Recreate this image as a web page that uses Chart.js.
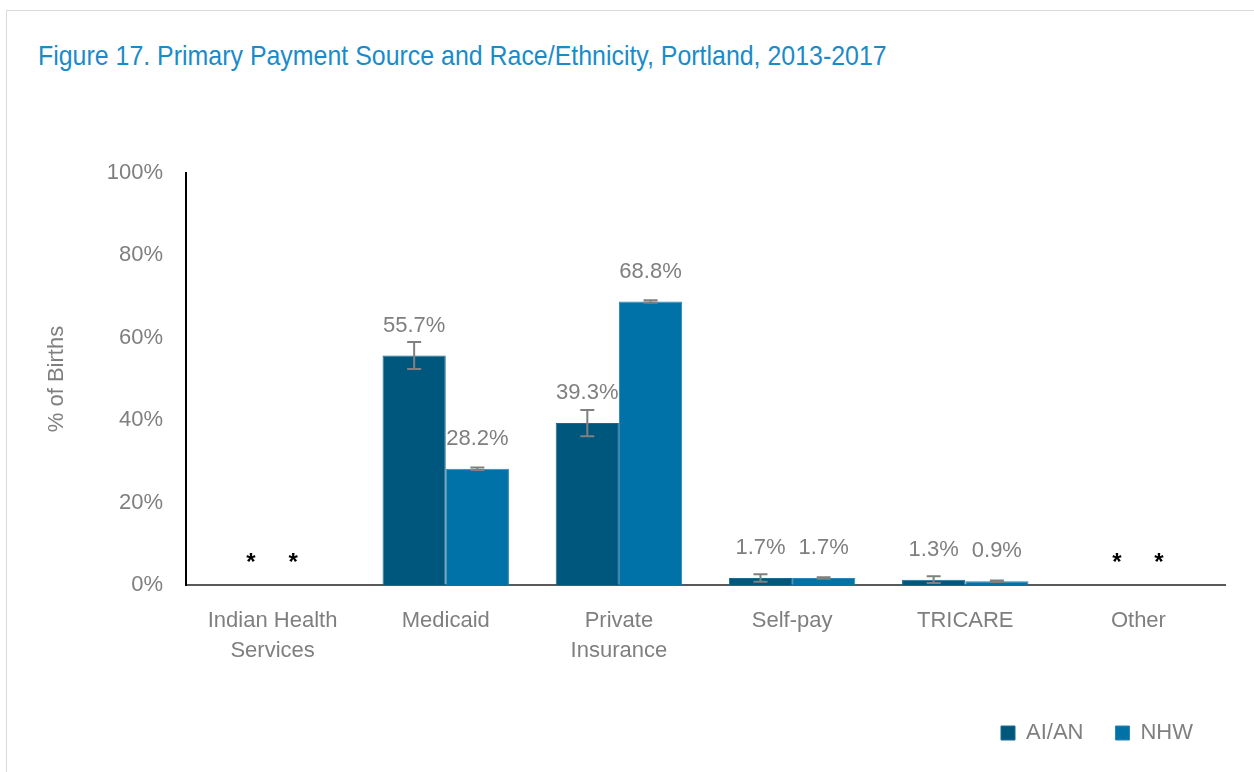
<!DOCTYPE html>
<html>
<head>
<meta charset="utf-8">
<script src="https://cdn.jsdelivr.net/npm/chart.js@4.4.1/dist/chart.umd.min.js"></script>
<style>
    html, body { margin: 0; padding: 0; background: #fff; }
    #wrap { position: relative; width: 1254px; height: 772px; overflow: hidden; }
    #frame { position: absolute; left: 6px; top: 10px; width: 1260px; height: 800px; border: 1px solid #d9d9d9; box-sizing: border-box; }
    #title { position: absolute; left: 38px; top: 40px; font-family: "Liberation Sans Narrow", "Arial Narrow", "Liberation Sans", sans-serif; font-size: 28px; color: #1a8bc9; white-space: nowrap; transform: scaleX(0.89); transform-origin: left top; }
    #chart { position: absolute; left: 0; top: 0; }
</style>
</head>
<body>
<div id="wrap">
    <div id="frame"></div>
    <div id="title">Figure 17. Primary Payment Source and Race/Ethnicity, Portland, 2013-2017</div>
    <canvas id="chart" width="1254" height="772"></canvas>
</div>
<script>
// Data (percent of births)
const categories = [['Indian Health', 'Services'], 'Medicaid', ['Private', 'Insurance'], 'Self-pay', 'TRICARE', 'Other'];
const aianValues = [0, 55.7, 39.3, 1.7, 1.3, 0];
const nhwValues = [0, 28.2, 68.8, 1.7, 0.9, 0];
const aianErrors = [0, 3.3, 3.2, 0.9, 0.8, 0];
const nhwErrors = [0, 0.3, 0.3, 0.2, 0.2, 0];
// true where the value is suppressed and shown as *
const suppressed = [true, false, false, false, false, true];
const yTicks = [0, 20, 40, 60, 80, 100];

const FONT = '"Liberation Sans", Arial, sans-serif';
const GREY = '#7f7f7f';

// Error bars, drawn with the y scale
const errorBars = {
    id: 'errorBars',
    afterDatasetsDraw(chart) {
        const ctx = chart.ctx;
        const y = chart.scales.y;
        chart.data.datasets.forEach((ds, di) => {
            const meta = chart.getDatasetMeta(di);
            meta.data.forEach((bar, i) => {
                const err = ds.errors[i];
                if (!err || suppressed[i]) return;
                const top = y.getPixelForValue(ds.data[i] + err);
                const bot = y.getPixelForValue(Math.max(ds.data[i] - err, 0));
                ctx.save();
                ctx.strokeStyle = '#808080';
                ctx.lineWidth = 2;
                ctx.beginPath();
                ctx.moveTo(bar.x, top); ctx.lineTo(bar.x, bot);
                ctx.moveTo(bar.x - 7, top); ctx.lineTo(bar.x + 7, top);
                ctx.moveTo(bar.x - 7, bot); ctx.lineTo(bar.x + 7, bot);
                ctx.stroke();
                ctx.restore();
            });
        });
    }
};

// Value labels above the bars, * for suppressed values
const valueLabels = {
    id: 'valueLabels',
    afterDatasetsDraw(chart) {
        const ctx = chart.ctx;
        chart.data.datasets.forEach((ds, di) => {
            const meta = chart.getDatasetMeta(di);
            meta.data.forEach((bar, i) => {
                ctx.save();
                ctx.textAlign = 'center';
                ctx.textBaseline = 'middle';
                if (suppressed[i]) {
                    ctx.fillStyle = '#000';
                    ctx.font = 'bold 24px ' + FONT;
                    ctx.fillText('*', bar.x + (di === 0 ? 10 : -11), bar.y - 22);
                } else {
                    ctx.fillStyle = GREY;
                    ctx.font = '22px ' + FONT;
                    ctx.fillText(ds.data[i].toFixed(1) + '%', bar.x, bar.y - 30);
                }
                ctx.restore();
            });
        });
    }
};

new Chart(document.getElementById('chart'), {
    type: 'bar',
    data: {
        labels: categories,
        datasets: [{
            label: 'AI/AN',
            data: aianValues,
            errors: aianErrors,
            backgroundColor: '#00577e',
            borderColor: '#1b6a90',
            borderWidth: 1
        }, {
            label: 'NHW',
            data: nhwValues,
            errors: nhwErrors,
            backgroundColor: '#0072a8',
            borderColor: '#2a86b6',
            borderWidth: 1
        }]
    },
    options: {
        responsive: false,
        animation: false,
        layout: { padding: { left: 38, right: 29, top: 173, bottom: 18 } },
        categoryPercentage: 0.73,
        barPercentage: 1,
        plugins: {
            legend: {
                position: 'bottom',
                align: 'end',
                labels: {
                    boxWidth: 14,
                    boxHeight: 14,
                    padding: 32,
                    color: GREY,
                    font: { family: FONT, size: 22 }
                }
            },
            tooltip: { enabled: false }
        },
        scales: {
            x: {
                grid: { display: false },
                border: { color: '#595959', width: 2 },
                afterFit: s => { s.height = 105; },
                ticks: {
                    color: GREY,
                    font: { family: FONT, size: 22, lineHeight: 1.36 },
                    padding: 13,
                    maxRotation: 0
                }
            },
            y: {
                min: 0,
                max: 100,
                grid: { display: false },
                border: { color: '#000', width: 2 },
                afterBuildTicks: s => { s.ticks = yTicks.map(v => ({ value: v })); },
                afterFit: s => { s.width = 148; },
                ticks: {
                    color: GREY,
                    font: { family: FONT, size: 22 },
                    padding: 15,
                    callback: v => v + '%'
                },
                title: {
                    display: true,
                    text: '% of Births',
                    color: GREY,
                    font: { family: FONT, size: 22 },
                    padding: 6
                }
            }
        }
    },
    plugins: [errorBars, valueLabels]
});
</script>
</body>
</html>
